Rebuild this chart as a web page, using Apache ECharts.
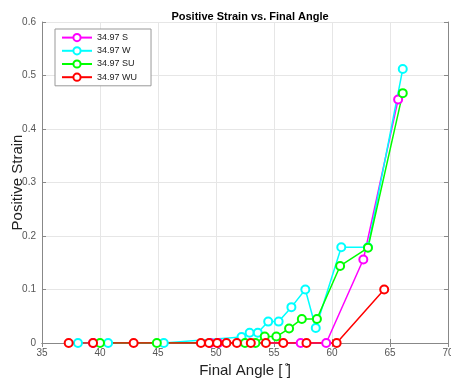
<!DOCTYPE html>
<html>
<head>
<meta charset="utf-8">
<script src="https://cdn.jsdelivr.net/npm/echarts@6/dist/echarts.min.js"></script>
<style>
  html, body { margin: 0; padding: 0; background: #fff; }
  #chart { width: 451px; height: 381px; }
</style>
</head>
<body>
<div id="chart"></div>
<script>
// [final angle, positive strain]
var seriesS = [[39.4, 0], [49.5, 0], [50.2, 0], [57.3, 0], [59.5, 0], [62.7, 0.156], [65.7, 0.455]];
var seriesW = [[38.1, 0], [40.7, 0], [45.5, 0], [52.2, 0.011], [52.9, 0.019], [53.6, 0.019],
  [54.5, 0.04], [55.4, 0.04], [56.5, 0.067], [57.7, 0.1], [58.6, 0.028], [60.8, 0.179],
  [63.1, 0.179], [66.1, 0.512]];
var seriesSU = [[40.0, 0], [44.9, 0], [52.5, 0], [53.4, 0], [54.2, 0.012], [55.2, 0.012],
  [56.3, 0.027], [57.4, 0.045], [58.7, 0.045], [60.7, 0.144], [63.1, 0.178], [66.1, 0.467]];
var seriesWU = [[37.3, 0], [39.4, 0], [42.9, 0], [48.7, 0], [49.4, 0], [50.1, 0], [50.9, 0],
  [51.8, 0], [53.0, 0], [54.3, 0], [55.8, 0], [57.8, 0], [60.4, 0], [64.5, 0.1]];
var names = ["34.97 S", "34.97 W", "34.97 SU", "34.97 WU"];
var colors = ["#ff00ff", "#00ffff", "#00ff00", "#ff0000"];

var allData = [seriesS, seriesW, seriesSU, seriesWU];
var axisGray = "#888";
var labelStyle = { color: "#555", fontSize: 10, fontFamily: "Liberation Sans" };

var chart = echarts.init(document.getElementById("chart"));
chart.setOption({
  backgroundColor: "#fff",
  animation: false,
  title: {
    text: "Positive Strain vs. Final Angle",
    left: 245, top: 6, textAlign: "center",
    textStyle: { fontSize: 11, fontWeight: "bold", color: "#000", fontFamily: "Liberation Sans" }
  },
  legend: {
    orient: "vertical",
    left: 55, top: 29,
    itemWidth: 30, itemHeight: 9, itemGap: 4,
    padding: [4, 14, 4, 6],
    borderColor: "#999", borderWidth: 1,
    backgroundColor: "#fff",
    textStyle: { fontSize: 9, color: "#222", fontFamily: "Liberation Sans" },
    data: names
  },
  grid: { left: 42, right: 3, top: 22, bottom: 38, show: false, containLabel: false, outerBoundsMode: "none" },
  xAxis: [{
    type: "value", min: 35, max: 70, interval: 5,
    name: "Final Angle [ ̊]", nameLocation: "middle", nameGap: 18,
    nameTextStyle: { fontSize: 15, color: "#222", fontFamily: "Liberation Sans" },
    axisLine: { onZero: false, lineStyle: { color: axisGray } },
    axisTick: { inside: true, length: 4, lineStyle: { color: axisGray } },
    axisLabel: Object.assign({ margin: 5 }, labelStyle),
    splitLine: { lineStyle: { color: "#e6e6e6" } }
  }, {
    type: "value", min: 35, max: 70, interval: 5, position: "top",
    axisLine: { lineStyle: { color: axisGray } },
    axisTick: { inside: true, length: 4, lineStyle: { color: axisGray } },
    axisLabel: { show: false }, splitLine: { show: false }
  }],
  yAxis: [{
    type: "value", min: 0, max: 0.6, interval: 0.1,
    name: "Positive Strain", nameLocation: "middle", nameGap: 17, nameMoveOverlap: false,
    nameTextStyle: { fontSize: 15, color: "#222", fontFamily: "Liberation Sans" },
    axisLine: { show: true, lineStyle: { color: axisGray } },
    axisTick: { show: true, inside: true, length: 4, lineStyle: { color: axisGray } },
    axisLabel: Object.assign({ margin: 6 }, labelStyle),
    splitLine: { lineStyle: { color: "#e6e6e6" } }
  }, {
    type: "value", min: 0, max: 0.6, interval: 0.1, position: "right",
    axisLine: { show: true, lineStyle: { color: axisGray } },
    axisTick: { show: true, inside: true, length: 4, lineStyle: { color: axisGray } },
    axisLabel: { show: false }, splitLine: { show: false }
  }],
  series: allData.map(function (d, i) {
    return {
      name: names[i], type: "line", data: d,
      color: colors[i],
      symbol: "emptyCircle", symbolSize: 8, showAllSymbol: true,
      lineStyle: { width: 1.5, color: colors[i] },
      itemStyle: { color: colors[i], borderWidth: 1.5 }
    };
  })
});
</script>
</body>
</html>
